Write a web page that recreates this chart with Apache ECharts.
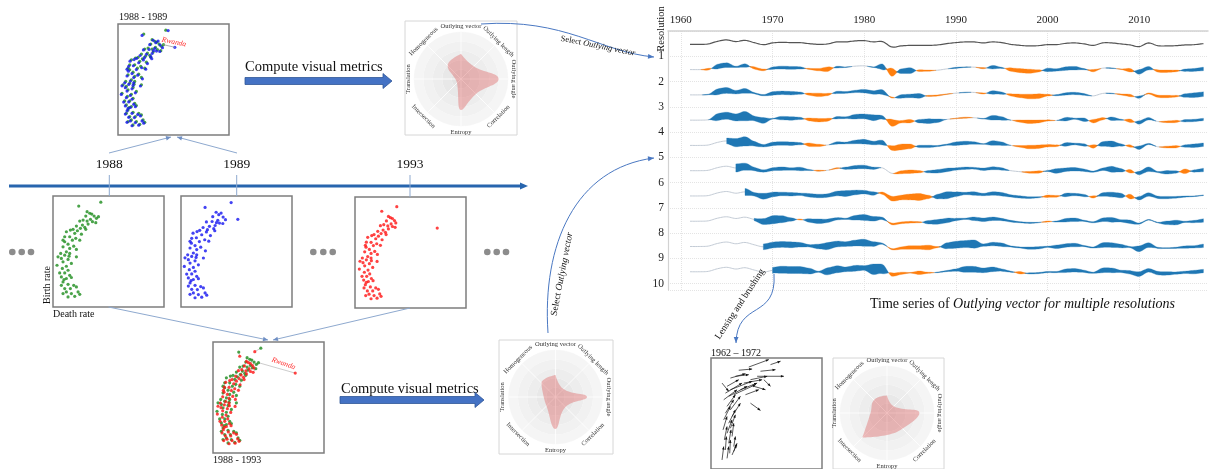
<!DOCTYPE html>
<html><head><meta charset="utf-8">
<script src="https://cdn.jsdelivr.net/npm/echarts@6/dist/echarts.min.js"></script>
<style>html,body{margin:0;padding:0;background:#fff}#c{width:1213px;height:469px}</style>
</head><body><div id="c"></div>
<script>
// ---------------- DATA ----------------
const YEARS = [1961,1962,1963,1964,1965,1966,1967,1968,1969,1970,1971,1972,1973,1974,1975,1976,1977,1978,1979,1980,
  1981,1982,1983,1984,1985,1986,1987,1988,1989,1990,1991,1992,1993,1994,1995,1996,1997,1998,1999,2000,
  2001,2002,2003,2004,2005,2006,2007,2008,2009,2010,2011,2012,2013,2014,2015,2016,2017];
const YEAR_TICKS = [1960,1970,1980,1990,2000,2010];
const RES_TICKS = [1,2,3,4,5,6,7,8,9,10];
// outlying-vector score at full resolution (black line), 25 units = one row
const BASE = [-0.7,-0.7,-0.3,2.3,3.7,2,3.3,1,-1,0.7,1.3,1,1,0,-0.7,-0.3,1.7,1.7,2.7,3,
  1.7,2,-3.3,-2.3,-1.7,-1.7,-1.7,-1.3,0,1,1.7,1.7,0.7,1.7,1,-0.7,-1.7,-2.3,-2,-1,
  -1,0.3,0.7,-0.3,-1.7,0.7,0.7,-0.3,-1.3,-3,0.7,-2,-2.3,-2,-1.3,-1,0];
// signed band values per resolution (+ blue, - orange)
const RES1 = [0,0,-1.5,4,4,1,3,-2,-1.5,2,2.5,2.5,2,-1,-2,-4,1.5,0.5,0,0,0.5,5,-7,4,5,-1.5,-1,0,0,1,0.5,0,-1,3,1,-3,-3.5,-3.5,-2,3,2,3,3,1,-2,0,0.5,-0.5,-3,4,3,-2,-2,-1.5,2,2.5,3];
const RES2 = [0,0,0.5,5,5,3,4,1,1,3,3,3,2,-2,-3,-2,2,1.5,2,3,3,4,-1,3,3,4,-1,-1,-0.5,0,0.5,0,-1,3,2,-2,-3,-4,-4,-1.5,1,2,2,1.5,0,0,0.5,-1,-2,2,-1,-2,-2,-1.5,3,4,4];
const RES3 = [0,0,0,6,6,6,8,4,5,0.5,3,3,2,-2.5,-3,-2.5,2,1.5,4,4,5,3,-6,-2,-3,3,4,3,0,-0.5,-1,0,0.5,4,3,0,-2,-3,-2.5,-1,0,3,1,3,-3,-2,3,1,-3,3,2,0,-1.5,-2,2,2,2];
const RES4 = [0,0,0,0,5,7,8,4,2,3,3,3,2,-3,-2,0,2,1.5,3,4,3,4,-4,-5,-4,2,2,1,1,3,3,2,0.5,4,3,0,-1.5,-3,-3,-2,-1.5,3,1.5,2,-3,4,5,2,-2,3,1,0,-1.5,-2,2,3,3];
const RES5 = [0,0,0,0,0,7,6,3,2,2.5,3,2,3,1,-1,0,-1,2,3,3,2,0,0,-2.5,-3,-2,2,3,3,2,2,1.5,2,2.5,2,0,0,-1.5,-2,1,4,3,3,2,1,2,5,3,-3,3,4,1,3,2,-4,2,3];
const RES6 = [0,0,0,0,0,0,6,3,5,4,3,3,2,3,3,3,4,5,4,3,3,-2,-4,-4,-5,-6,-3,4,6,4,2,3,2,3,3,2,2,1.5,1,-2,-1.5,3,2,2,-2,3,4,4,-4,3,3,2,2,1.5,1,0.5,0.5];
const RES7 = [0,0,0,0,0,0,0,2,5,7,6,3,-1,3,4,3,2,1,4,5,4,2,-1.5,-1.5,-1.5,-1,3,4,4,2,1,3,3,3,2,1.5,1,1,0.5,-1,1,3,3,1,1,3,4,2,3,1,0.5,0.5,3,4,1,2,3];
const RES8 = [0,0,0,0,0,0,0,0,5,5,5,5,4,2,4,6,5,4,5,6,4,1,-1,-2,-3,-3,-4,-1,5,6,6,7,2,3,3,1,1,2,2,1,3,3,3,1,1,4,4,3,1,5,4,1,0.5,1,2,2,3];
const RES9 = [0,0,0,0,0,0,0,0,0,5,6,6,6,5,1,6,6,4,5,4,9,8,-3,-2,-0.5,-3,-1,0.5,1,2,5,5,4,4,2,1,-2,1,1,1,1,3,3,2,1,4,4,2,3,4,3,3,3,2,2,3,3];
const RES_START = [1961,1961,1961,1965,1966,1967,1968,1969,1970];

// death rate (x) / birth rate (y), same country order in each year
const G88 = [[13.6,45.0],[14.3,52.2],[7.7,50.3],[10.2,47.5],[11.0,46.7],[11.6,46.3],[9.8,45.3],[12.3,45.3],[13.0,44.2],[11.2,43.7],
 [12.8,42.0],[9.0,43.3],[8.0,42.8],[10.2,42.8],[11.8,42.5],[10.5,41.3],[8.8,40.8],[7.0,40.3],[9.5,39.7],[8.2,39.2],
 [6.0,38.7],[5.2,38.3],[7.3,38.0],[9.8,38.7],[4.0,37.5],[6.5,36.7],[8.5,36.3],[3.5,35.0],[5.0,35.0],[6.8,34.2],
 [5.8,33.3],[3.5,32.5],[8.0,33.3],[4.5,31.3],[6.2,30.3],[3.0,30.0],[5.0,29.2],[7.0,28.7],[4.0,27.5],[2.3,26.7],
 [1.5,25.0],[3.5,25.8],[5.0,26.7],[2.5,24.2],[4.5,23.7],[7.0,25.0],[1.2,20.8],[3.0,22.5],[4.0,20.3],[5.5,21.7],
 [2.8,19.2],[4.5,18.3],[3.5,17.0],[5.0,15.8],[2.5,15.0],[4.0,14.2],[5.5,14.7],[3.0,12.5],[2.5,10.8],[4.5,11.3],
 [6.2,10.8],[3.5,9.2],[5.2,9.2],[7.0,10.0],[4.0,7.5],[5.5,6.7],[8.0,6.3],[3.0,6.7],[6.5,5.3],[4.5,5.0],
 [7.5,7.5],[3.3,13.7],[2.0,17.0],[4.8,25.3],[3.0,33.3]];
const B89 = [[17.0,43.7],[15.0,52.0],[7.2,49.6],[10.5,47.2],[11.3,46.0],[12.0,46.8],[9.5,45.0],[12.6,44.8],[13.3,43.5],[11.0,43.2],
 [12.5,41.6],[9.3,42.6],[7.6,42.4],[10.6,42.0],[11.5,41.8],[10.2,40.6],[8.5,40.2],[6.6,39.6],[9.8,39.0],[7.9,38.5],
 [5.6,38.2],[4.8,37.6],[7.6,37.4],[10.1,38.0],[3.6,36.8],[6.2,36.0],[8.8,35.6],[3.2,34.2],[4.6,34.5],[7.1,33.5],
 [5.5,32.6],[3.1,31.8],[8.3,32.8],[4.2,30.6],[5.9,29.8],[2.7,29.4],[4.7,28.6],[7.3,28.0],[3.7,26.9],[2.0,26.0],
 [1.2,24.5],[3.2,25.2],[4.7,26.0],[2.2,23.6],[4.2,23.0],[6.7,24.4],[1.0,20.2],[2.7,21.9],[3.7,19.7],[5.2,21.0],
 [2.5,18.6],[4.2,17.8],[3.2,16.5],[4.7,15.3],[2.2,14.5],[3.7,13.7],[5.2,14.1],[2.7,12.0],[2.2,10.4],[4.2,10.8],
 [5.9,10.2],[3.2,8.8],[4.9,8.7],[6.7,9.5],[3.7,7.0],[5.2,6.2],[7.7,5.9],[2.7,6.3],[6.2,4.9],[4.2,4.6],
 [7.2,7.0],[3.0,13.1],[1.7,16.4],[4.5,24.7],[2.7,32.7]];
const R93 = [[24.6,39.8],[12.5,50.5],[8.0,48.2],[10.0,45.6],[10.6,45.0],[11.2,44.6],[9.4,43.4],[11.8,43.6],[12.2,42.4],[10.8,41.9],
 [12.0,40.2],[8.6,41.5],[7.6,41.0],[9.8,40.9],[11.2,40.6],[10.0,39.4],[8.4,38.8],[6.8,38.2],[9.1,37.7],[7.8,37.1],
 [5.7,36.6],[5.0,36.1],[7.0,35.8],[9.3,36.6],[3.8,35.2],[6.2,34.5],[8.1,34.0],[3.4,32.8],[4.8,32.7],[6.5,32.0],
 [5.5,31.1],[3.3,30.3],[7.6,31.2],[4.3,29.2],[5.9,28.2],[2.9,28.0],[4.8,27.2],[6.7,26.7],[3.8,25.6],[2.2,24.9],
 [1.5,23.3],[3.4,24.0],[4.8,24.9],[2.4,22.6],[4.3,22.1],[6.6,23.2],[1.3,19.4],[2.9,21.0],[3.9,18.9],[5.3,20.2],
 [2.8,17.8],[4.4,17.0],[3.5,15.8],[4.9,14.7],[2.6,13.9],[4.0,13.2],[5.4,13.6],[3.1,11.6],[2.7,10.0],[4.6,10.5],
 [6.2,10.0],[3.7,8.5],[5.3,8.5],[7.0,9.3],[4.2,6.9],[5.7,6.2],[7.8,5.8],[3.2,6.2],[6.6,4.9],[4.8,4.6],
 [7.4,7.0],[3.4,12.8],[2.1,15.8],[4.9,23.6],[3.1,31.2]];
// 1962 -> 1972 change vectors [d0,b0,d1,b1]
const VEC6272 = [[5.8,45.3,10.3,47.5],[8.3,49.2,12.3,49.8],[11.3,50.8,17.3,54.5],[13.8,46.2,21.8,46.2],[14.8,48.7,19.3,49.5],
 [11.8,44.5,16.8,46.2],[9.8,42.8,15.3,44.5],[15.8,44.5,17.8,41.2],[12.8,41.2,16.3,39.5],[3.3,42.8,5.3,38.7],
 [11.8,32.8,14.8,29.2],[4.8,41.2,8.3,44.5],[4.3,37.8,9.3,42.8],[5.3,36.2,10.8,41.2],[5.8,39.5,12.3,43.7],
 [3.8,34.5,7.8,39.5],[6.8,37.0,13.3,42.0],[4.8,31.2,7.3,37.0],[4.3,27.8,6.8,34.5],[5.8,29.5,8.8,36.2],
 [3.8,24.5,5.8,31.2],[5.3,22.8,7.3,29.5],[6.3,26.2,8.8,32.8],[3.6,19.5,4.8,26.2],[4.8,17.8,6.3,24.5],
 [5.8,20.3,7.3,27.0],[4.0,14.5,4.8,21.2],[5.3,12.8,6.0,19.5],[6.3,16.2,6.8,22.8],[4.3,9.5,4.6,16.2],
 [5.6,7.8,5.8,14.5],[6.8,11.2,7.3,16.2],[3.3,4.5,3.8,11.2],[4.8,5.3,5.3,11.2],[6.3,7.0,7.8,12.8],
 [6.8,8.7,7.6,12.0],[7.3,46.2,11.3,47.0],[17.8,52.0,20.8,53.7],[8.8,39.5,13.8,42.8],[10.3,37.0,14.3,39.5]];
const METRICS = ['Outlying vector','Outlying length','Outlying angle','Correlation','Entropy','Intersection','Translation','Homogeneous'];
const RADAR_8889 = [0.53,0.38,0.80,0.45,0.66,0.12,0.12,0.40];
const RADAR_8893 = [0.47,0.24,0.67,0.30,0.68,0.27,0.25,0.42];
const RADAR_6272 = [0.37,0.20,0.69,0.47,0.47,0.74,0.35,0.39];

// ---------------- CHART ----------------
const SERIF = '"Liberation Serif","DejaVu Serif",serif';
const SCORE_PER_ROW = 25;
const BAND_GAIN = 1.15;
const SUB = 6;
const ROWS = [null,RES1,RES2,RES3,RES4,RES5,RES6,RES7,RES8,RES9];
const BLUE = '#1f77b4', ORANGE = '#ff7f0e';

function cr(a,b,c,d,u){return 0.5*(2*b+(-a+c)*u+(2*a-5*b+4*c-d)*u*u+(-a+3*b-3*c+d)*u*u*u);}

function renderRes(params, api){
  const k = params.dataIndex;
  const center = k + 0.5;
  const n = YEARS.length;
  const P = YEARS.map((yr,i)=>api.coord([yr, center - BASE[i]/SCORE_PER_ROW]));
  const unit = Math.abs(api.size([0,1])[1]);
  const pxs = unit / SCORE_PER_ROW * BAND_GAIN;
  const T = ROWS[k];
  const start = k ? RES_START[k-1] : 0;
  const S = [];
  for(let i=0;i<n-1;i++){
    const p0=P[Math.max(i-1,0)],p1=P[i],p2=P[i+1],p3=P[Math.min(i+2,n-1)];
    const pre = YEARS[i] < start;
    for(let j=0;j<SUB;j++){
      const u=j/SUB;
      let t=0;
      if(T && !pre){const s=u*u*(3-2*u); t=T[i]+(T[i+1]-T[i])*s;}
      S.push({x:cr(p0[0],p1[0],p2[0],p3[0],u), y:cr(p0[1],p1[1],p2[1],p3[1],u), t, pre});
    }
  }
  S.push({x:P[n-1][0], y:P[n-1][1], t:T?T[n-1]:0, pre:false});
  const children = [];
  children.push({type:'polyline', shape:{points:S.map(p=>[p.x,p.y])},
    style:{stroke: k? '#c4ccd6' : '#555', lineWidth: k?1:1.2, fill:null}});
  if(T){
    const runs=[]; let run=null;
    for(let j=0;j<S.length;j++){
      const p=S[j];
      const sg = p.t>0.2?1:(p.t<-0.2?-1:0);
      if(run && sg!==run.sign){ run.pts.push({x:p.x,y:p.y,t:0}); runs.push(run); run=null; }
      if(sg!==0 && !run){
        run={sign:sg, pts:[]};
        if(j>0 && !S[j-1].pre) run.pts.push({x:S[j-1].x,y:S[j-1].y,t:0});
      }
      if(run) run.pts.push(p);
    }
    if(run) runs.push(run);
    runs.forEach(r=>{
      const up=r.pts.map(q=>[q.x, q.y-Math.abs(q.t)*pxs/2]);
      const lo=r.pts.map(q=>[q.x, q.y+Math.abs(q.t)*pxs/2]).reverse();
      const col = r.sign>0?BLUE:ORANGE;
      children.push({type:'polygon', shape:{points:up.concat(lo)}, style:{fill:col, stroke:col, lineWidth:0.3}});
    });
  }
  return {type:'group', children};
}

function segRender(color, width, head){
  return function(params, api){
    const a = api.coord([api.value(0), api.value(1)]);
    const b = api.coord([api.value(2), api.value(3)]);
    const ch=[{type:'line', shape:{x1:a[0],y1:a[1],x2:b[0],y2:b[1]}, style:{stroke:color,lineWidth:width}}];
    if(head){
      const ang=Math.atan2(b[1]-a[1],b[0]-a[0]), L=3, W=1.3;
      ch.push({type:'polygon', shape:{points:[[b[0],b[1]],
        [b[0]-L*Math.cos(ang)+W*Math.sin(ang), b[1]-L*Math.sin(ang)-W*Math.cos(ang)],
        [b[0]-L*Math.cos(ang)-W*Math.sin(ang), b[1]-L*Math.sin(ang)+W*Math.cos(ang)]]}, style:{fill:color}});
    }
    return {type:'group', children:ch};
  };
}

const boxes = [
  {left:118, top:24}, {left:53, top:196}, {left:181, top:196}, {left:355, top:197}, {left:213, top:342}, {left:711, top:358}
];
const grids = boxes.map(b=>({left:b.left, top:b.top, width:111, height:111, show:true, borderColor:'#7d7d7d', borderWidth:1.5, backgroundColor:'#fff'}));
grids.push({left:668, top:31, width:540, height:259, show:false});
const xAxes = boxes.map((b,i)=>({gridIndex:i, type:'value', min:0, max:33.2, show:false}));
const yAxes = boxes.map((b,i)=>({gridIndex:i, type:'value', min:0, max:55.3, show:false}));
xAxes.push({gridIndex:6, type:'value', position:'top', min:1958.6, max:2017.5,
  axisLine:{show:true, lineStyle:{color:'#d2d2d2', width:1.5}}, axisTick:{show:false, customValues:YEAR_TICKS},
  axisLabel:{customValues:YEAR_TICKS, color:'#222', fontFamily:SERIF, fontSize:11, margin:5, formatter:v=>String(Math.round(v))},
  splitLine:{show:true, lineStyle:{color:'#e4e4e4', type:'dotted'}}});
yAxes.push({gridIndex:6, type:'value', inverse:true, min:0, max:10.25, interval:1,
  axisLine:{show:true, lineStyle:{color:'#d2d2d2', width:1.2}}, axisTick:{show:false},
  axisLabel:{color:'#222', fontFamily:SERIF, fontSize:11.5, margin:4, formatter:v=> RES_TICKS.indexOf(v)>=0? String(v):''},
  splitLine:{show:true, lineStyle:{color:'#e4e4e4', type:'dotted'}}});

const RADAR_CENTERS = [[461,79],[555.5,397],[887,413]];
const RADAR_DATA = [RADAR_8889, RADAR_8893, RADAR_6272];
const polar = RADAR_CENTERS.map(c=>({center:c, radius:47}));
const angleAxis = RADAR_CENTERS.map((c,i)=>({polarIndex:i, type:'value', min:0, max:360, interval:45, startAngle:90, clockwise:true,
  axisLine:{show:false}, axisTick:{show:false}, axisLabel:{show:false}, splitLine:{show:true, lineStyle:{color:'#ffffff', width:0.8}}}));
const radiusAxis = RADAR_CENTERS.map((c,i)=>({polarIndex:i, type:'value', min:0, max:1, interval:0.2,
  axisLine:{show:false}, axisTick:{show:false}, axisLabel:{show:false},
  splitLine:{show:true, lineStyle:{color:'#fafafa', width:0.8}},
  splitArea:{show:true, areaStyle:{color:['#e3e3e3','#e8e8e8','#ededed','#f1f1f1','#f5f5f5']}}}));

const series = [];
const dot = (name, data, gi, color) => ({name, type:'scatter', xAxisIndex:gi, yAxisIndex:gi, data, symbolSize:3.2, itemStyle:{color}, silent:true});
// top 1988-1989
series.push(dot('g88a', G88, 0, '#1d8c1d'));
series.push(dot('b89a', B89, 0, '#1414f0'));
series.push({type:'custom', xAxisIndex:0, yAxisIndex:0, renderItem:segRender('#9a9a9a',0.8,false),
  data:[[G88[0][0],G88[0][1],B89[0][0],B89[0][1]]], z:3});
series.push(dot('g88', G88, 1, '#1d8c1d'));
series.push(dot('b89', B89, 2, '#1414f0'));
series.push(dot('r93', R93, 3, '#ff1414'));
series.push({type:'custom', xAxisIndex:4, yAxisIndex:4, renderItem:segRender('#a9a9a9',0.6,false),
  data:G88.map((p,i)=>[p[0],p[1],R93[i][0],R93[i][1]])});
series.push(dot('g88e', G88, 4, '#1d8c1d'));
series.push(dot('r93e', R93, 4, '#ff1414'));
series.push({type:'custom', xAxisIndex:5, yAxisIndex:5, renderItem:segRender('#111',0.7,true), data:VEC6272});
series.push({type:'custom', xAxisIndex:6, yAxisIndex:6, renderItem:renderRes, clip:false,
  data:[0,1,2,3,4,5,6,7,8,9].map(k=>[YEARS[0],k+0.5])});
RADAR_DATA.forEach((vals,i)=>{
  const d = vals.map((v,j)=>[v, j*45]); d.push([vals[0],360]);
  series.push({type:'line', coordinateSystem:'polar', polarIndex:i, data:d, smooth:0.45, symbol:'none',
    lineStyle:{width:0}, areaStyle:{color:'rgba(222,92,92,0.55)'}, silent:true});
});

// ---------------- ANNOTATION GRAPHICS ----------------
const G = [];
const txt = (x,y,text,size,opt={}) => G.push({type:'text', x, y, rotation:opt.rot||0, z:10,
  style:{text, font:(opt.italic?'italic ':'')+size+'px '+SERIF, fill:opt.color||'#111', textAlign:opt.align||'left', textVerticalAlign:'middle', rich:opt.rich}});
function head(x,y,ang,L,W,color){
  G.push({type:'polygon', z:10, shape:{points:[[x,y],[x-L*Math.cos(ang)+W*Math.sin(ang), y-L*Math.sin(ang)-W*Math.cos(ang)],
    [x-L*Math.cos(ang)-W*Math.sin(ang), y-L*Math.sin(ang)+W*Math.cos(ang)]]}, style:{fill:color}});
}
function conn(x1,y1,x2,y2,arrow){
  G.push({type:'line', z:9, shape:{x1,y1,x2,y2}, style:{stroke:'#8ea9cf', lineWidth:1}});
  if(arrow) head(x2,y2,Math.atan2(y2-y1,x2-x1),5,2.2,'#6f8fc4');
}
function curve(s,arrow){
  G.push({type:'bezierCurve', z:9, shape:s, style:{stroke:'#4a78c2', lineWidth:1, fill:null}});
  if(arrow) head(s.x2,s.y2,Math.atan2(s.y2-s.cpy2,s.x2-s.cpx2),6,2.4,'#4a78c2');
}
function blockArrow(x0,xt,yc){
  const xb=xt-9;
  G.push({type:'polygon', z:10, shape:{points:[[x0,yc-3.5],[xb,yc-3.5],[xb,yc-7.5],[xt,yc],[xb,yc+7.5],[xb,yc+3.5],[x0,yc+3.5]]},
    style:{fill:'#4472c4', stroke:'#2f5597', lineWidth:0.8}});
}
const dots = (xs,y)=>xs.forEach(x=>G.push({type:'circle', z:10, shape:{cx:x,cy:y,r:3.3}, style:{fill:'#8c8c8c'}}));

// timeline
G.push({type:'line', z:9, shape:{x1:9,y1:186,x2:521,y2:186}, style:{stroke:'#2765ae', lineWidth:3}});
head(528,186,0,8,3.6,'#2765ae');
txt(109.3,164,'1988',13.5,{align:'center'});
txt(236.7,164,'1989',13.5,{align:'center'});
txt(410,164,'1993',13.5,{align:'center'});
conn(109.3,175,109.3,196,false); conn(236.7,175,236.7,196,false); conn(410,175,410,197,false);
conn(109,153,171,137,true); conn(237,153,177,137,true);
conn(108.5,307,268,340,true); conn(410,308,273,340,true);
dots([12.3,21.7,31],252); dots([313.3,323.3,332.7],252); dots([487.3,496.7,506],252);

txt(119,17,'1988 - 1989',10);
txt(47.7,285,'Birth rate',10,{rot:Math.PI/2, align:'center'});
txt(53,314,'Death rate',10);
txt(213,460,'1988 - 1993',10);
txt(711,353,'1962 \u2013 1972',10);
txt(174,42,'Rwanda',7.5,{italic:true,color:'#ff2a2a',align:'center',rot:-0.2});
txt(283.5,363.5,'Rwanda',7.5,{italic:true,color:'#ff2a2a',align:'center',rot:-0.33});

txt(245,67,'Compute visual metrics',14.5); blockArrow(245,392,81);
txt(341,389,'Compute visual metrics',14.5); blockArrow(340,484,400);

// radar frames and labels
[[405,21,112,114],[499,340,114,114],[833,358,111,111]].forEach(r=>G.push({type:'rect', z:1, shape:{x:r[0],y:r[1],width:r[2],height:r[3]}, style:{fill:null, stroke:'#d6d6d6', lineWidth:1}}));
const ROT = [0,-Math.PI/4,-Math.PI/2,Math.PI/4,0,-Math.PI/4,Math.PI/2,Math.PI/4];
RADAR_CENTERS.forEach(c=>{
  METRICS.forEach((m,i)=>{
    const th=i*Math.PI/4, R=53;
    txt(c[0]+Math.sin(th)*R, c[1]-Math.cos(th)*R, m, 6.5, {align:'center', rot:ROT[i], color:'#333'});
  });
});

// main chart annotations
txt(661,29,'Resolution',10.5,{rot:Math.PI/2, align:'center'});
G.push({type:'text', x:870, y:304, z:10, style:{text:'{n|Time series of }{i|Outlying vector for multiple resolutions}', textVerticalAlign:'middle',
  rich:{n:{fontSize:14, fontFamily:SERIF, fill:'#111'}, i:{fontSize:14, fontFamily:SERIF, fontStyle:'italic', fill:'#111'}}}});
G.push({type:'text', x:598, y:46, rotation:-0.2, z:10, style:{text:'{n|Select }{i|Outlying vector}', textAlign:'center', textVerticalAlign:'middle',
  rich:{n:{fontSize:8.5, fontFamily:SERIF, fill:'#111'}, i:{fontSize:8.5, fontFamily:SERIF, fontStyle:'italic', fill:'#111'}}}});
G.push({type:'text', x:562, y:274, rotation:1.38, z:10, style:{text:'{n|Select }{i|Outlying vector}', textAlign:'center', textVerticalAlign:'middle',
  rich:{n:{fontSize:9.5, fontFamily:SERIF, fill:'#111'}, i:{fontSize:9.5, fontFamily:SERIF, fontStyle:'italic', fill:'#111'}}}});
txt(740,304,'Lensing and brushing',9.5,{rot:0.99, align:'center'});
curve({x1:481,y1:24,cpx1:565,cpy1:18,cpx2:600,cpy2:52,x2:654,y2:57},true);
curve({x1:548,y1:333,cpx1:542,cpy1:245,cpx2:575,cpy2:168,x2:654,y2:158},true);
curve({x1:774,y1:274,cpx1:777,cpy1:320,cpx2:737,cpy2:300,x2:736,y2:343},true);

const chart = echarts.init(document.getElementById('c'));
chart.setOption({
  animation:false, backgroundColor:'#fff',
  grid:grids, xAxis:xAxes, yAxis:yAxes,
  polar, angleAxis, radiusAxis,
  series, graphic:{elements:G}
});
</script></body></html>
